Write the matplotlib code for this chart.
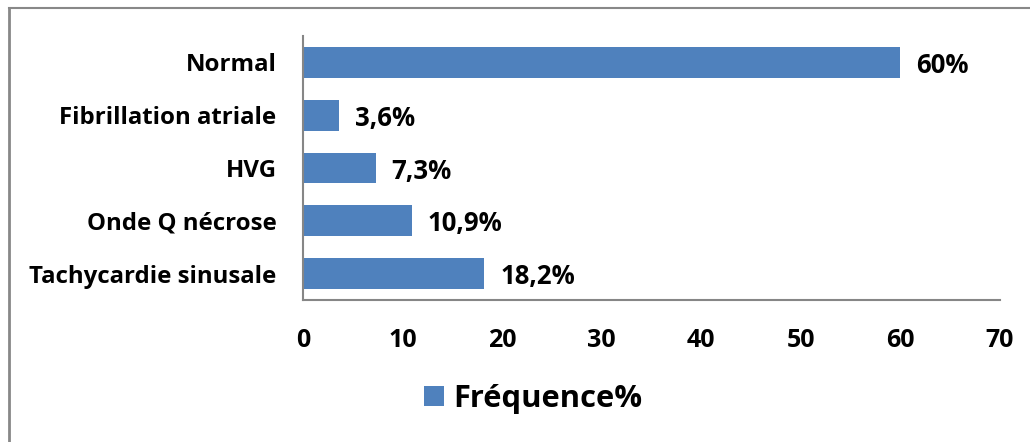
import matplotlib.pyplot as plt
from matplotlib.lines import Line2D

categories = ["Tachycardie sinusale", "Onde Q nécrose", "HVG", "Fibrillation atriale", "Normal"]
frequence = [18.2, 10.9, 7.3, 3.6, 60]
value_labels = ["18,2%", "10,9%", "7,3%", "3,6%", "60%"]
x_ticks = [0, 10, 20, 30, 40, 50, 60, 70]

plt.rcParams["font.family"] = ["Open Sans", "DejaVu Sans"]
plt.rcParams["font.weight"] = "bold"

fig = plt.figure(figsize=(10.30, 4.42), dpi=100)
ax = fig.add_axes([303 / 1030, 1 - 300 / 442, 697 / 1030, 264 / 442])

bars = ax.barh(categories, frequence, height=0.58, color="#4F81BD", label="Fréquence%")

for bar, text in zip(bars, value_labels):
    ax.text(bar.get_width() + 1.6, bar.get_y() + bar.get_height() / 2 - 0.06, text,
            va="center", ha="left", fontsize=18.5, fontweight="bold")

ax.set_xlim(0, 70)
ax.set_ylim(-0.5, 4.5)
ax.set_xticks(x_ticks)
ax.tick_params(axis="both", length=0)
ax.tick_params(axis="x", pad=20, labelsize=18)
ax.tick_params(axis="y", pad=19, labelsize=17.3)
for lbl in ax.get_xticklabels() + ax.get_yticklabels():
    lbl.set_fontweight("bold")

for side in ("top", "right"):
    ax.spines[side].set_visible(False)
for side in ("left", "bottom"):
    ax.spines[side].set_color("#868686")
    ax.spines[side].set_linewidth(1.5)

leg = fig.legend(loc="center", bbox_to_anchor=(533 / 1030, 1 - 399 / 442), frameon=False,
                 prop={"size": 22.2, "weight": "bold"}, handlelength=0.65, handleheight=0.65,
                 handletextpad=0.3)

# outer chart frame (left and top edges only)
fig.add_artist(Line2D([8.5 / 1030, 8.5 / 1030], [0, 1 - 7.5 / 442], color="#888888", lw=2))
fig.add_artist(Line2D([8.5 / 1030, 1], [1 - 7.5 / 442, 1 - 7.5 / 442], color="#888888", lw=1.5))

fig.savefig("out.png", dpi=100)
